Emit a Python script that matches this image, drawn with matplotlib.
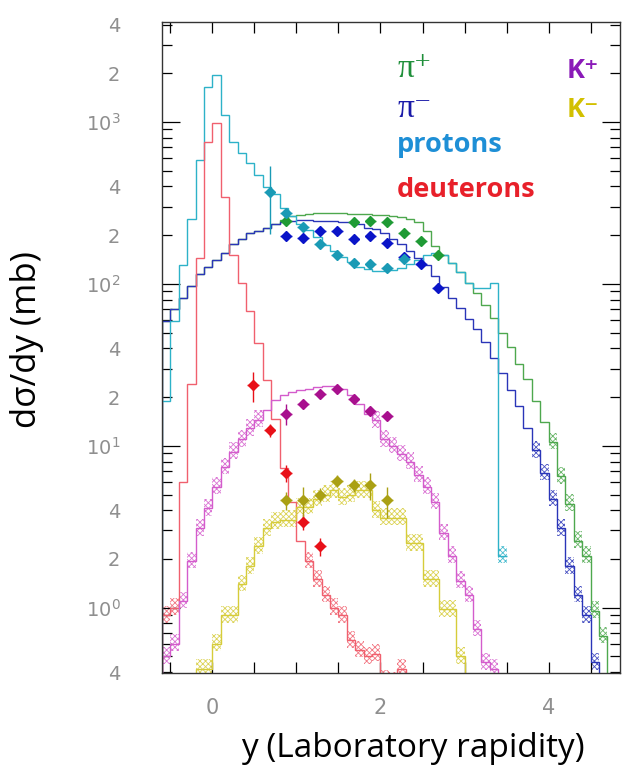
import numpy as np
import matplotlib
matplotlib.use("Agg")
import matplotlib.pyplot as plt
from matplotlib.ticker import MultipleLocator, LogLocator, FuncFormatter

plt.rcParams["hatch.linewidth"] = 0.6

# rapidity distributions, 0.1 wide bins starting at *_start
pip_start = -0.6
pip = [59, 70, 82, 97, 115, 128, 141, 156, 177, 190, 205, 213, 223, 236,
       250, 262, 268, 272, 274, 274, 274, 273, 272, 271, 270, 268, 265, 262,
       258, 252, 240, 213, 172, 150, 135, 118, 101, 88, 74, 62, 50, 41, 32,
       26, 19, 14, 10.6, 6.5, 4.4, 2.6, 2.1, 0.96, 0.67]

pim_start = -0.6
pim = [59, 70, 82, 97, 115, 128, 141, 156, 177, 190, 205, 213, 223, 236,
       240, 246, 247, 247, 246, 246, 244, 240, 240, 236, 223, 218, 205, 190,
       177, 160, 145, 130, 112, 96, 82, 71, 61, 53, 44, 35, 28, 22, 17.5,
       12.8, 9.4, 6.8, 4.7, 3.1, 1.8, 1.2, 0.9, 0.46]

prot_start = -0.6
prot = [19, 59, 130, 253, 580, 1650, 1960, 1100, 750, 640, 555, 470, 395,
        360, 293, 262, 235, 215, 195, 175, 160, 147, 137, 128, 123, 120, 120,
        122, 126, 132, 140, 150, 156, 150, 135, 118, 101, 95, 95, 101, 2.1]

deut_start = -0.6
deut = [0.9, 1.0, 6.0, 24, 145, 750, 985, 342, 150, 101, 68, 43, 25.5, 14.7,
        7.3, 4.5, 2.6, 1.95, 1.5, 1.2, 1.0, 0.9, 0.63, 0.55, 0.5, 0.52, 0.36,
        0.35, 0.42, 0.3]

kp_start = -0.6
kp = [0.5, 0.6, 1.1, 1.95, 3.1, 4.1, 5.6, 7.4, 9.2, 11, 12.8, 14.5, 16.6,
      19.3, 20.6, 21.5, 22, 22.5, 23, 23.5, 23.5, 22.5, 20.6, 18, 15.8, 14.4,
      11, 10, 8.9, 8.0, 6.6, 5.6, 4.5, 2.9, 2.1, 1.47, 1.2, 0.74, 0.46, 0.42]

km_start = -0.2
km = [0.42, 0.42, 0.6, 0.9, 0.9, 1.4, 1.8, 2.4, 3.1, 3.4, 3.5, 3.5, 4.2, 4.2,
      4.7, 5.0, 5.3, 4.8, 5.0, 5.3, 5.3, 4.0, 3.6, 3.6, 3.6, 2.5, 2.5, 1.5,
      1.5, 0.98, 0.98, 0.5]

# measured points
pip_x = [0.88, 1.68, 1.88, 2.08, 2.28, 2.48, 2.68]
pip_v = [246, 240, 246, 240, 205, 185, 150]
pip_e = [15, 12, 12, 12, 10, 10, 8]

pim_x = [0.88, 1.08, 1.28, 1.48, 1.68, 1.88, 2.08, 2.28, 2.48, 2.68]
pim_v = [197, 192, 213, 213, 190, 197, 180, 146, 133, 95]
pim_e = [10, 10, 10, 10, 10, 10, 9, 8, 7, 6]

prot_x = [0.68, 0.88, 1.08, 1.28, 1.48, 1.68, 1.88, 2.08, 2.28]
prot_v = [368, 276, 225, 177, 150, 135, 132, 126, 142]
prot_e = [165, 15, 12, 9, 8, 7, 7, 7, 8]

deut_x = [0.48, 0.68, 0.88, 1.08, 1.28]
deut_v = [23.7, 12.5, 6.8, 3.4, 2.4]
deut_e = [5, 1.2, 0.8, 0.4, 0.3]

kp_x = [0.88, 1.08, 1.28, 1.48, 1.68, 1.88, 2.08]
kp_v = [15.8, 18.2, 21, 22.5, 19.5, 16.4, 15.3]
kp_e = [2.3, 1.0, 0.9, 0.9, 0.9, 0.9, 0.9]

km_x = [0.88, 1.08, 1.28, 1.48, 1.68, 1.88, 2.08]
km_v = [4.6, 4.6, 5.0, 6.1, 5.7, 5.7, 4.6]
km_e = [0.6, 1.0, 0.5, 0.5, 0.5, 1.1, 1.0]

series = [
    # values, start, line colour, point colour, points, hatch below, baseline
    (pip, pip_start, "#4ea84e", "#1f9a35", (pip_x, pip_v, pip_e), 12, 0.01),
    (pim, pim_start, "#2a35b8", "#0a14c8", (pim_x, pim_v, pim_e), 12, 0.01),
    (prot, prot_start, "#2db2c8", "#1a9ab5", (prot_x, prot_v, prot_e), 5, None),
    (deut, deut_start, "#f0606e", "#e81018", (deut_x, deut_v, deut_e), 2.2, 0.01),
    (kp, kp_start, "#d45ccc", "#a8108e", (kp_x, kp_v, kp_e), 15, 0.01),
    (km, km_start, "#d6cc3a", "#aaa014", (km_x, km_v, km_e), 10, 0.01),
]

fig = plt.figure(figsize=(6.3, 7.72), dpi=100)
ax = fig.add_axes([162 / 630, 99 / 772, 458 / 630, 651 / 772])
ax.set_yscale("log")

for vals, start, lc, pc, pts, cut, base in series:
    vals = np.array(vals, dtype=float)
    edges = np.round(start + 0.1 * np.arange(len(vals) + 1), 2)
    # hatched uncertainty boxes on the low tails
    low = vals < cut
    ax.bar(edges[:-1][low], vals[low] * 0.24, bottom=vals[low] * 0.9,
           width=0.1, align="edge", fill=False, hatch="xxxxxx",
           edgecolor=lc, linewidth=0, alpha=0.85, zorder=1)
    ax.stairs(vals, edges, baseline=base, color=lc, linewidth=1.0, zorder=2)

for vals, start, lc, pc, pts, cut, base in series:
    px, pv, pe = pts
    ax.errorbar(px, pv, xerr=0.07, yerr=pe, fmt="D", ms=5, color=pc,
                elinewidth=1.0, capsize=0, zorder=4)

ax.set_xlim(-0.6, 4.85)
ax.set_ylim(0.395, 4150)

tick_col = "#8f8f8f"
ax.xaxis.set_major_locator(MultipleLocator(0.5))
ax.xaxis.set_major_formatter(FuncFormatter(
    lambda v, _: f"{v:.0f}" if abs(v - round(v)) < 1e-6 and round(v) % 2 == 0 else ""))
ax.yaxis.set_major_locator(LogLocator(base=10, numticks=12))
ax.yaxis.set_minor_locator(LogLocator(base=10, subs=np.arange(2, 10), numticks=12))
ax.yaxis.set_major_formatter(FuncFormatter(
    lambda v, _: f"$10^{{{int(round(np.log10(v)))}}}$"))


def minor_label(v, _):
    m = v / 10 ** np.floor(np.log10(v) + 1e-9)
    for d in (2, 4):
        if abs(m - d) < 1e-3:
            return str(d)
    return ""


ax.yaxis.set_minor_formatter(FuncFormatter(minor_label))

ax.tick_params(axis="x", which="major", direction="in", top=True, length=8,
               width=0.9, pad=18, labelsize=15, labelcolor=tick_col)
ax.tick_params(axis="y", which="major", direction="in", right=True, length=13,
               width=0.9, pad=30, labelsize=14, labelcolor=tick_col)
ax.tick_params(axis="y", which="minor", direction="in", right=True, length=7,
               width=0.9, pad=30, labelsize=14, labelcolor=tick_col)
for s in ax.spines.values():
    s.set_color("#333333")
    s.set_linewidth(1.0)

# axis titles
fig.text(27 / 630, 1 - 340 / 772, "dσ/dy (mb)", rotation=90, ha="center",
         va="center", fontsize=25, family=["Open Sans", "DejaVu Sans"])
fig.text(413 / 630, 1 - 757 / 772, "y (Laboratory rapidity)", ha="center",
         va="baseline", fontsize=24, family=["Open Sans", "DejaVu Sans"])

# species labels
lab = dict(ha="left", va="baseline", fontsize=19.5, fontweight="bold",
           family=["Open Sans", "DejaVu Sans"])
pi_lab = dict(ha="left", va="baseline", fontsize=24,
              family=["Liberation Serif", "DejaVu Serif"])
fig.text(397 / 630, 1 - 77 / 772, "π⁺", color="#1f8f3a", **pi_lab)
fig.text(397 / 630, 1 - 117 / 772, "π⁻", color="#1a1aa8", **pi_lab)
fig.text(397 / 630, 1 - 152 / 772, "protons", color="#1e8fd6", **lab)
fig.text(397 / 630, 1 - 197 / 772, "deuterons", color="#e8202a", **lab)
fig.text(567 / 630, 1 - 78 / 772, "K⁺", color="#8a1ab8", **lab)
fig.text(567 / 630, 1 - 117 / 772, "K⁻", color="#d2c000", **lab)

fig.savefig("out.png", dpi=100)
